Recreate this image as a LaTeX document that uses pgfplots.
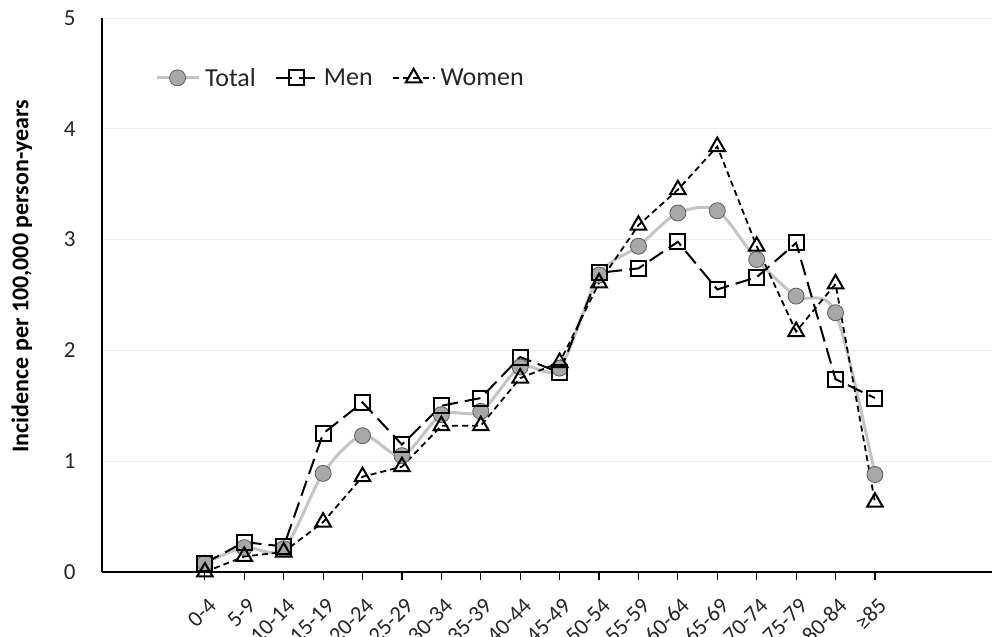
\documentclass[border=0pt]{standalone}
\usepackage{pgfplots}
\pgfplotsset{compat=1.18}
\usepackage{pgfplotstable}
\usepackage{fontspec}
\setmainfont{Carlito}
\definecolor{totline}{HTML}{C4C4C4}
\definecolor{totfill}{HTML}{A8A8A8}
\definecolor{totedge}{HTML}{5A5A5A}
\definecolor{gridc}{HTML}{EDEDED}

\pgfplotstableread{
i total men women
0 0.08 0.08 0.00
1 0.22 0.27 0.14
2 0.21 0.23 0.18
3 0.89 1.25 0.45
4 1.23 1.53 0.86
5 1.05 1.15 0.95
6 1.42 1.50 1.32
7 1.45 1.57 1.32
8 1.85 1.94 1.75
9 1.84 1.80 1.89
10 2.68 2.70 2.61
11 2.94 2.74 3.13
12 3.24 2.98 3.45
13 3.26 2.55 3.84
14 2.82 2.66 2.94
15 2.49 2.97 2.17
16 2.34 1.74 2.60
17 0.88 1.57 0.63
}\data

\begin{document}
\begin{tikzpicture}
\begin{axis}[name=ax,
  scale only axis, width=890pt, height=554pt,
  xmin=-2.61, xmax=19.97, ymin=0, ymax=5,
  clip=false,
  axis x line*=bottom, axis y line*=left,
  axis line style={line width=1.6pt, black, -},
  xtick={0,...,17},
  xticklabels={0-4,5-9,10-14,15-19,20-24,25-29,30-34,35-39,40-44,45-49,50-54,55-59,60-64,65-69,70-74,75-79,80-84,≥85},
  ytick={0,1,2,3,4,5},
  tick align=outside, major tick length=8pt,
  x tick style={line width=1.2pt, black},
  y tick style={draw=none},
  ymajorgrids, grid style={gridc, line width=0.8pt},
  /pgf/number format/assume math mode=true,
  tick label style={text=black!85},
  yticklabel style={font=\fontsize{23}{28}\selectfont, xshift=-15pt},
  xticklabel style={font=\fontsize{22.5}{27}\selectfont, inner sep=0pt, xshift=7.5pt, yshift=-22pt, rotate=45, anchor=east},
  ylabel={Incidence per 100,000 person-years},
  ylabel style={font=\bfseries\fontsize{24}{28}\selectfont, at={(rel axis cs:-0.09,0.534)}, anchor=center},
  legend style={draw=none, fill=none, at={(rel axis cs:0.056,0.892)}, anchor=west,
     font=\fontsize{26}{31}\selectfont, text=black!85,
     nodes={inner sep=1pt},
     /tikz/every odd column/.append style={column sep=4pt},
     /tikz/every even column/.append style={column sep=18pt}},
  legend columns=3,
  legend image code/.code={\draw[mark repeat=2, mark phase=2, #1] plot coordinates {(0pt,0pt) (21pt,0pt) (42pt,0pt)};},
]
\addplot[totline, line width=3pt, smooth, tension=0.5, mark=*, mark size=8pt,
  mark options={fill=totfill, draw=totedge, line width=0.8pt}] table[x=i,y=total]{\data};
\addlegendentry{Total}
\addplot[black, line width=2pt, dash pattern=on 16pt off 7pt, mark=square, mark size=7.5pt,
  mark options={solid, line width=2pt}] table[x=i,y=men]{\data};
\addlegendentry{Men}
\addplot[black, line width=1.8pt, dash pattern=on 6pt off 4pt, mark=triangle, mark size=9pt,
  mark options={solid, line width=2pt}] table[x=i,y=women]{\data};
\addlegendentry{Women}
\end{axis}
\pgfresetboundingbox
\path ([shift={(-102pt,-65pt)}]ax.south west) rectangle ([shift={(0pt,18pt)}]ax.north east);
\end{tikzpicture}
\end{document}
